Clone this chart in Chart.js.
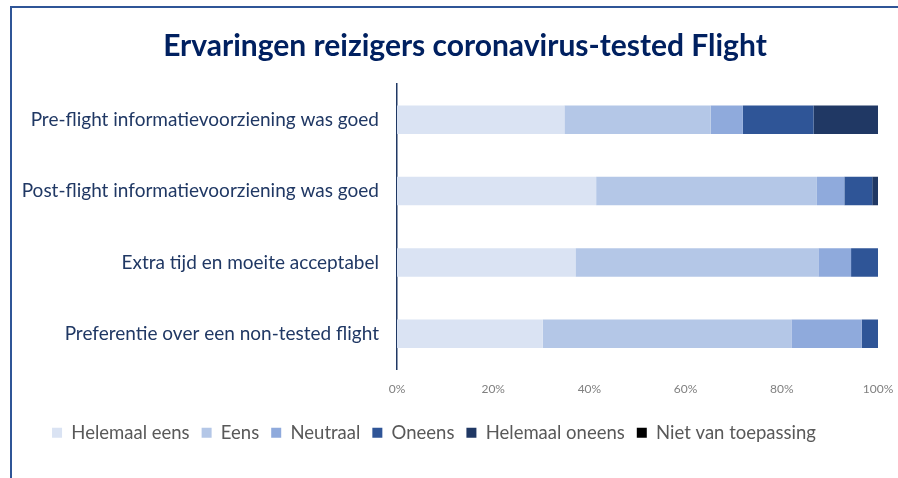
<!DOCTYPE html>
<html>
<head>
<meta charset="utf-8">
<script src="https://cdn.jsdelivr.net/npm/chart.js@4.4.1/dist/chart.umd.min.js"></script>
<style>
  html, body { margin: 0; padding: 0; background: #ffffff; overflow: hidden; }
  #wrap { position: relative; width: 898px; height: 478px; }
  #frame { position: absolute; left: 10px; top: 6px; width: 900px; height: 480px;
           border-left: 2px solid #2F5597; border-top: 2px solid #2F5597; pointer-events: none; }
  canvas { position: absolute; left: 0; top: 0; }
</style>
</head>
<body>
<div id="wrap">
  <canvas id="c" width="898" height="478"></canvas>
  <div id="frame"></div>
</div>
<script>
const titleText = 'Ervaringen reizigers coronavirus-tested Flight';
const categories = [
  'Pre-flight informatievoorziening was goed',
  'Post-flight informatievoorziening was goed',
  'Extra tijd en moeite acceptabel',
  'Preferentie over een non-tested flight'
];
const seriesNames = ['Helemaal eens', 'Eens', 'Neutraal', 'Oneens', 'Helemaal oneens', 'Niet van toepassing'];
const helemaalEens      = [34.8, 41.4, 37.1, 30.3];
const eens              = [30.4, 45.9, 50.5, 51.7];
const neutraal          = [6.7, 5.7, 6.8, 14.6];
const oneens            = [14.7, 5.8, 5.6, 3.4];
const helemaalOneens    = [13.4, 1.2, 0, 0];
const nietVanToepassing = [0, 0, 0, 0];
const xTickValues = [0, 20, 40, 60, 80, 100];
const seriesColors = ['#DAE3F3', '#B4C7E7', '#8FAADC', '#2F5597', '#203864', '#000000'];

const seriesValues = [helemaalEens, eens, neutraal, oneens, helemaalOneens, nietVanToepassing];
const datasets = seriesNames.map((name, i) => ({
  label: name,
  data: seriesValues[i],
  backgroundColor: seriesColors[i],
  borderWidth: 0,
  categoryPercentage: 0.4,
  barPercentage: 1.0
}));

const shiftPlugin = {
  id: 'shiftBoxes',
  afterLayout(chart) {
    const lg = chart.legend;
    if (lg) { lg.left -= 5; lg.right -= 5; }
    const t = chart.titleBlock;
    if (t) { t.left += 26; t.right += 26; }
  }
};

new Chart(document.getElementById('c'), {
  type: 'bar',
  data: { labels: categories, datasets },
  plugins: [shiftPlugin],
  options: {
    indexAxis: 'y',
    responsive: false,
    animation: false,
    layout: { padding: { left: 0, right: 20, top: 0, bottom: 26 } },
    plugins: {
      title: {
        display: true,
        text: titleText,
        color: '#002060',
        font: { family: 'Lato', size: 30, weight: 'bold', lineHeight: 1.2 },
        padding: { top: 28, bottom: 20 }
      },
      legend: {
        display: true,
        position: 'bottom',
        labels: {
          boxWidth: 10,
          boxHeight: 10,
          padding: 12,
          color: '#595959',
          font: { family: 'Lato', size: 18.5 }
        }
      },
      tooltip: { enabled: false }
    },
    scales: {
      x: {
        stacked: true,
        min: 0,
        max: 100,
        afterBuildTicks(scale) { scale.ticks = xTickValues.map(v => ({ value: v })); },
        afterFit(scale) { scale.height = 42; scale.paddingRight = 0; scale.paddingLeft = 0; },
        grid: { display: false, drawTicks: false },
        border: { display: false },
        ticks: {
          padding: 12,
          color: '#808080',
          font: { family: 'Lato', size: 12 },
          callback: v => v + '%'
        }
      },
      y: {
        stacked: true,
        afterFit(scale) { scale.width = 397; },
        grid: { display: false, drawTicks: false },
        border: { display: true, color: '#203864', width: 1.5 },
        ticks: {
          padding: 18,
          color: '#203864',
          font: { family: 'Lato', size: 19 }
        }
      }
    }
  }
});
</script>
</body>
</html>
